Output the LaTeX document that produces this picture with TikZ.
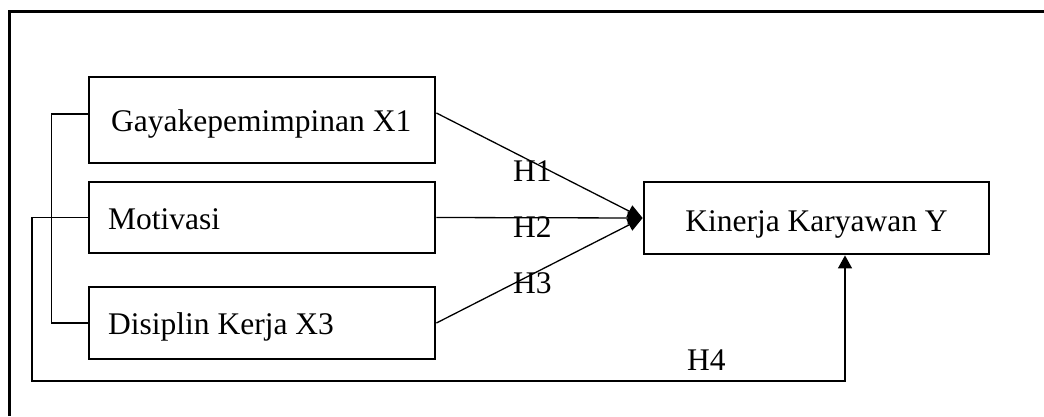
\documentclass[tikz,border=0pt]{standalone}
\usepackage{fontspec}
\setmainfont{Liberation Serif}
\usetikzlibrary{arrows.meta}
\begin{document}
\begin{tikzpicture}[x=1pt,y=-1pt,
  box/.style={draw, line width=2.8pt, inner sep=0pt, minimum width=346pt},
  txt/.style={inner sep=0pt, font=\fontsize{31.5}{38}\selectfont},
  ln/.style={line width=1.3pt},
  arr/.style={-{Triangle[length=15pt,width=13pt]}},
  arrb/.style={-{Triangle[length=13pt,width=14pt]}}]
\useasboundingbox (0,0) rectangle (1044,416);
\draw[line width=3pt] (9.5,416) -- (9.5,11) -- (1044,11);
% boxes
\node[box, minimum height=86pt] (g) at (262,120) {};
\node[box, minimum height=71pt] (m) at (262,217.5) {};
\node[box, minimum height=72pt] (d) at (262,323) {};
\node[box, minimum width=345pt, minimum height=72pt] (k) at (816.5,218) {};
% texts
\node[txt, anchor=base west] (tg) at (111,131) {Gayakepemimpinan X1};
\node[txt, anchor=base west] (tm) at (108,229) {Motivasi};
\node[txt, anchor=base west] (td) at (108,334) {Disiplin Kerja X3};
\node[txt, anchor=base] (tk) at (816.5,231) {Kinerja Karyawan Y};
% bracket
\draw[ln] ([yshift=6pt]g.west) -- ++(-36,0) |- (d.west);
% H4 path
\coordinate (c1) at (32,381);
\coordinate (c2) at (845,381);
\draw[ln, arrb] (m.west) -| (c1) -- (c2) -- (c2 |- k.south);
% arrows
\draw[ln, arr] ([yshift=7pt]g.east) -- (k.west);
\draw[ln, arr] (m.east) -- (k.west);
\draw[ln, arr] (d.east) -- (k.west);
% labels
\node[txt, anchor=base west] (h1) at (513,181) {H1};
\node[txt, anchor=base west] (h2) at (513,237) {H2};
\node[txt, anchor=base west] (h3) at (513,293) {H3};
\node[txt, anchor=base west] (h4) at (687,370) {H4};
\end{tikzpicture}
\end{document}
